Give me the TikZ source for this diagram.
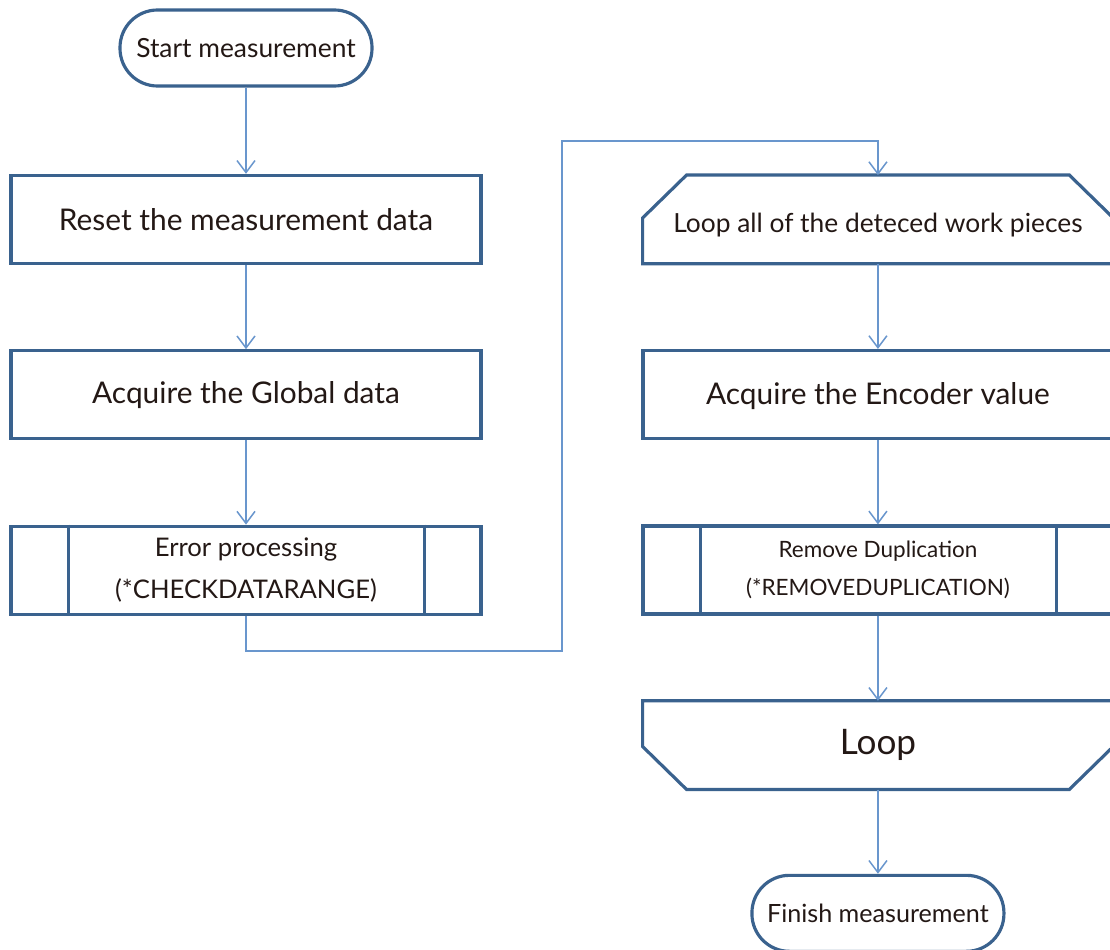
\documentclass[tikz,border=0pt]{standalone}
\usepackage{fontspec}
\setmainfont{Lato}
\usepackage{xcolor}
\usetikzlibrary{arrows.meta, positioning, calc}

\definecolor{boxblue}{RGB}{58,98,142}
\definecolor{linkblue}{RGB}{105,150,205}
\definecolor{inkbrown}{RGB}{35,24,21}

\begin{document}
\begin{tikzpicture}[
    node distance=1.685cm,
    term/.style={rectangle, draw=boxblue, line width=1.8pt, rounded corners=0.75cm, minimum width=5.04cm, minimum height=1.52cm, text=inkbrown, font=\fontsize{15}{18}\selectfont},
    proc/.style={rectangle, draw=boxblue, line width=1.8pt, minimum width=9.4cm, minimum height=1.76cm, text=inkbrown, font=\fontsize{17}{20}\selectfont},
    subproc/.style={proc, align=center, font=\fontsize{15}{24}\selectfont},
    loopbox/.style={rectangle, minimum width=9.4cm, minimum height=1.76cm, text=inkbrown, font=\fontsize{15}{18}\selectfont},
    outline/.style={draw=boxblue, line width=1.8pt, line join=miter},
    arrow/.style={-{Straight Barb[length=2.4mm, width=3.6mm]}, draw=linkblue, line width=0.85pt}
]
    \fill[white] (0,0) rectangle (22.2,-19);
    \useasboundingbox (0,0) rectangle (22.2,-19);

    % Main column
    \node[term] (start) at (4.92,-0.96) {Start measurement};
    \node[proc, below=1.724cm of start] (reset) {Reset the measurement data};
    \node[proc, below=of reset] (global) {Acquire the Global data};
    \node[subproc, font=\fontsize{14.6}{24}\selectfont, below=of global] (err) {Error processing\\(*CHECKDATARANGE)};

    % Loop column
    \node[loopbox, text height=0.62cm, right=3.2cm of reset] (loopA) {Loop all of the deteced work pieces};
    \node[proc, text height=0.5cm, below=1.705cm of loopA] (enc) {Acquire the Encoder value};
    \node[subproc, below=of enc, font=\fontsize{12.8}{21.5}\selectfont] (remv) {Remove Duplication\\(*REMOVEDUPLICATION)};
    \node[loopbox, below=1.705cm of remv, font=\fontsize{20}{24}\selectfont] (loopB) {Loop};
    \node[term, font=\fontsize{14.3}{18}\selectfont, below=1.685cm of loopB] (finish) {Finish measurement};

    % loop limits with cut corners
    \draw[outline] ([yshift=-0.86cm]loopA.north west) -- ([xshift=0.88cm]loopA.north west)
        -- ([xshift=-0.88cm]loopA.north east) -- ([yshift=-0.86cm]loopA.north east)
        -- (loopA.south east) -- (loopA.south west) -- cycle;
    \draw[outline] (loopB.north west) -- (loopB.north east) -- ([yshift=0.86cm]loopB.south east)
        -- ([xshift=-0.88cm]loopB.south east) -- ([xshift=0.88cm]loopB.south west)
        -- ([yshift=0.86cm]loopB.south west) -- cycle;

    % side bars of the subroutine boxes
    \foreach \n in {err, remv} {
        \draw[outline] ([xshift=1.18cm]\n.north west) -- ([xshift=1.18cm]\n.south west);
        \draw[outline] ([xshift=-1.16cm]\n.north east) -- ([xshift=-1.16cm]\n.south east);
    }

    \draw[arrow] (start) -- (reset);
    \draw[arrow] (reset) -- (global);
    \draw[arrow] (global) -- (err);

    % jump over to the loop column
    \coordinate (midx) at ($(err.east)!0.5!(remv.west)$);
    \coordinate (topjog) at ([yshift=0.68cm]loopA.north);
    \draw[arrow] (err.south) -- ++(0,-0.7) -| (midx |- topjog) -| (loopA.north);

    \draw[arrow] (loopA) -- (enc);
    \draw[arrow] (enc) -- (remv);
    \draw[arrow] (remv) -- (loopB);
    \draw[arrow] (loopB) -- (finish);
\end{tikzpicture}
\end{document}
